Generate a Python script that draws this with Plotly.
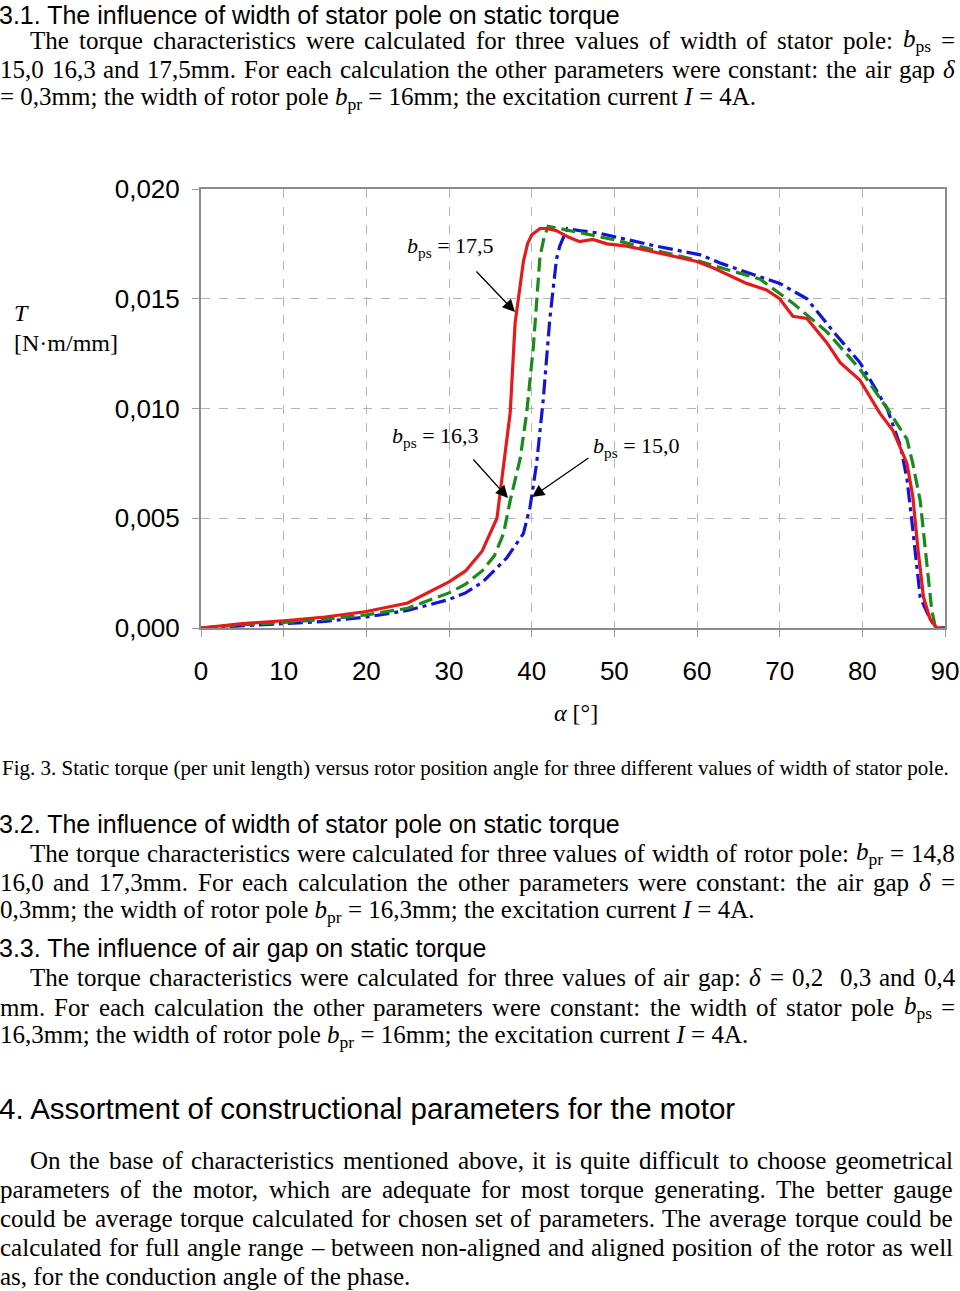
import re
import plotly.graph_objects as go

# ---------------- data ----------------
x_175 = [0, 5, 10, 15, 20, 25, 30, 32, 34, 35, 35.8, 36.5, 37, 37.4, 38.0, 38.6, 39.0, 39.5, 40, 41,
         41.8, 43, 44.5, 45.8, 47.4, 49.1, 51.5, 54, 56.5, 60, 62, 64.4, 66, 68.4, 70, 71.6, 73.3,
         75.7, 77.3, 79.7, 82.1, 83.7, 85.4, 86.1, 86.7, 87.4, 88.2, 89, 90]
t_175 = [0, 0.0002, 0.00033, 0.0005, 0.00075, 0.00114, 0.0021, 0.0026, 0.0035, 0.0043, 0.0050, 0.0071,
         0.0085, 0.0098, 0.0139, 0.0156, 0.0167, 0.0175, 0.0179, 0.0182, 0.0182, 0.0181, 0.0178, 0.0176,
         0.0177, 0.0175, 0.0174, 0.0172, 0.0170, 0.0167, 0.0164, 0.0160, 0.0157, 0.0154, 0.0150, 0.0142,
         0.0141, 0.0130, 0.0121, 0.0113, 0.0098, 0.0090, 0.0075, 0.0060, 0.0037, 0.0014, 0.0004, 0.0, 0.0]

x_163 = [0, 5, 10, 15, 20, 25, 30, 32, 34, 35.5, 36.6, 37.4, 38.6, 39.4, 40.2, 40.6, 41.0, 41.5, 42.0,
         43.4, 46, 49.8, 55, 59.5, 63, 67.6, 71.6, 75.7, 79.7, 83.0, 85.4, 86.1, 87.0, 87.8, 88.4, 88.8, 90]
t_163 = [0, 0.00015, 0.00025, 0.0004, 0.0006, 0.0009, 0.0016, 0.0020, 0.0026, 0.0033, 0.0043, 0.0058,
         0.0077, 0.0098, 0.0128, 0.0150, 0.0169, 0.0178, 0.0183, 0.0182, 0.0180, 0.0177, 0.0172, 0.0168,
         0.0164, 0.0159, 0.0148, 0.0135, 0.0118, 0.0100, 0.0086, 0.0075, 0.0058, 0.0030, 0.0008, 0.0001, 0]

x_150 = [0, 5, 10, 15, 20, 25, 30, 32, 34.1, 37.0, 39.0, 39.8, 40.6, 41.4, 42.2, 43.0, 43.4, 44.3, 45.8,
         48, 51.5, 55, 60.4, 63, 66.8, 70, 73.3, 76.5, 79.7, 83.0, 84.6, 85.4, 86.1, 87.0, 88.2, 89, 90]
t_150 = [0, 0.0001, 0.0002, 0.0003, 0.0005, 0.0008, 0.0013, 0.0016, 0.0021, 0.0032, 0.0043, 0.0055,
         0.0075, 0.0104, 0.0141, 0.0168, 0.0174, 0.0182, 0.0181, 0.0180, 0.0177, 0.0174, 0.0170, 0.0166,
         0.0161, 0.0157, 0.0150, 0.0135, 0.0121, 0.0100, 0.0083, 0.0068, 0.0045, 0.0014, 0.0004, 0.0, 0]

x_ticks = [0, 10, 20, 30, 40, 50, 60, 70, 80, 90]
y_ticks = [0.0, 0.005, 0.010, 0.015, 0.020]

# ---------------- layout geometry ----------------
W, H = 960, 1291
L, R, T, B = 201, 945, 189, 628


def pp(px, py):
    return (px - L) / (R - L), (B - py) / (B - T)


SERIF = "Liberation Serif, Times New Roman, serif"
SANS = "Liberation Sans, Arial, sans-serif"

fig = go.Figure()
fig.add_trace(go.Scatter(x=x_150, y=t_150, mode="lines", name="bps = 15,0",
                         line=dict(color="#1414D8", width=3.2, dash="15px,5px,4px,5px")))
fig.add_trace(go.Scatter(x=x_163, y=t_163, mode="lines", name="bps = 16,3",
                         line=dict(color="#1A8A1A", width=3.2, dash="14px,6px")))
fig.add_trace(go.Scatter(x=x_175, y=t_175, mode="lines", name="bps = 17,5",
                         line=dict(color="#E51B1B", width=3.2)))

ann = []


def d(px, py):
    return (px - L) / (R - L) * 90, (B - py) / (B - T) * 0.020


# arrows (head at curve, tail near labels)
for (hx, hy), (tx, ty) in [((515, 312), (475, 270)), ((508, 498), (472, 458)), ((532, 497), (590, 457))]:
    hxd, hyd = d(hx, hy)
    txd, tyd = d(tx, ty)
    ann.append(dict(x=hxd, y=hyd, ax=txd, ay=tyd, xref="x", yref="y", axref="x", ayref="y",
                    text="", showarrow=True, arrowhead=2, arrowsize=1.9, arrowwidth=1.3,
                    arrowcolor="black"))

# curve labels
for txt, px, py in [("<i>b</i><sub>ps</sub> = 17,5", 405, 247),
                    ("<i>b</i><sub>ps</sub> = 16,3", 390, 437),
                    ("<i>b</i><sub>ps</sub> = 15,0", 591, 447)]:
    xp, yp = pp(px, py)
    ann.append(dict(x=xp, y=yp, xref="paper", yref="paper", xanchor="left", yanchor="middle",
                    text=txt, showarrow=False, font=dict(family=SERIF, size=22, color="black")))

# axis titles
for txt, px, py, anc in [("<i>T</i>", 12, 313, "left"), ("[N·m/mm]", 12, 343, "left"),
                         ("<i>α</i> [°]", 576, 713, "center")]:
    xp, yp = pp(px, py)
    ann.append(dict(x=xp, y=yp, xref="paper", yref="paper", xanchor=anc, yanchor="middle",
                    text=txt, showarrow=False, font=dict(family=SERIF, size=24, color="black")))


def text_line(txt, px, py, fam, size, anchor="left"):
    xp, yp = pp(px, py)
    ann.append(dict(x=xp, y=yp, xref="paper", yref="paper", xanchor=anchor, yanchor="middle",
                    text=txt, showarrow=False, borderpad=0, borderwidth=0,
                    font=dict(family=fam, size=size, color="black")))


# approximate Times advance widths (per 1000 em) used only to spread words for justification
TW = {" ": 250, "a": 444, "b": 500, "c": 444, "d": 500, "e": 444, "f": 333, "g": 500, "h": 500,
      "i": 278, "j": 278, "k": 500, "l": 278, "m": 778, "n": 500, "o": 500, "p": 500, "q": 500,
      "r": 333, "s": 389, "t": 278, "u": 500, "v": 500, "w": 722, "x": 500, "y": 500, "z": 444,
      "A": 722, "B": 667, "C": 667, "D": 722, "E": 611, "F": 556, "G": 722, "H": 722, "I": 333,
      "T": 611, "O": 722, ",": 250, ".": 250, ":": 278, ";": 278, "=": 564, "–": 500, "-": 333,
      "δ": 500, "(": 333, ")": 333}


def text_w(s, size):
    w, scale = 0.0, 1.0
    for tok in re.split(r"(<[^>]+>)", s):
        if tok.startswith("<"):
            scale = 0.7 if tok == "<sub>" else (1.0 if tok == "</sub>" else scale)
            continue
        w += sum(TW.get(c, 500) for c in tok) * scale
    return w * size / 1000.0


BODY = 25


def justified(line, py, x0=0, x1=955, size=BODY):
    words = line.split(" ")
    widths = [text_w(w, size) for w in words]
    gap = (x1 - x0 - sum(widths)) / (len(words) - 1)
    x = x0
    for w, wd in zip(words, widths):
        if w:
            text_line(w, x, py, SERIF, size)
        x += wd + gap


# headings
text_line("3.1. The influence of width of stator pole on static torque", -1, 14.5, SANS, 25)
text_line("3.2. The influence of width of stator pole on static torque", -1, 824, SANS, 25)
text_line("3.3. The influence of air gap on static torque", -1, 948, SANS, 25)
text_line("4. Assortment of constructional parameters for the motor", -1, 1108, SANS, 29.5)

# section 3.1 text
justified("The torque characteristics were calculated for three values of width of stator pole: <i>b</i><sub>ps</sub> =",
          40, x0=30)
justified("15,0 16,3 and 17,5mm. For each calculation the other parameters were constant: the air gap <i>δ</i>", 69)
text_line("= 0,3mm; the width of rotor pole <i>b</i><sub>pr</sub> = 16mm; the excitation current <i>I</i> = 4A.",
          0, 98, SERIF, BODY)

# caption
text_line("Fig. 3. Static torque (per unit length) versus rotor position angle for three different values of width of stator pole.",
          2, 768, SERIF, 21)

# section 3.2 text
justified("The torque characteristics were calculated for three values of width of rotor pole: <i>b</i><sub>pr</sub> = 14,8",
          853, x0=30)
justified("16,0 and 17,3mm. For each calculation the other parameters were constant: the air gap <i>δ</i> =", 882)
text_line("0,3mm; the width of rotor pole <i>b</i><sub>pr</sub> = 16,3mm; the excitation current <i>I</i> = 4A.",
          0, 911, SERIF, BODY)

# section 3.3 text
justified("The torque characteristics were calculated for three values of air gap: <i>δ</i> = 0,2  0,3 and 0,4",
          978, x0=30)
justified("mm. For each calculation the other parameters were constant: the width of stator pole <i>b</i><sub>ps</sub> =",
          1007)
text_line("16,3mm; the width of rotor pole <i>b</i><sub>pr</sub> = 16mm; the excitation current <i>I</i> = 4A.",
          0, 1036, SERIF, BODY)

# section 4 text
justified("On the base of characteristics mentioned above, it is quite difficult to choose geometrical",
          1160, x0=30, x1=953)
justified("parameters of the motor, which are adequate for most torque generating. The better gauge", 1189, x1=953)
justified("could be average torque calculated for chosen set of parameters. The average torque could be", 1218, x1=953)
justified("calculated for full angle range – between non-aligned and aligned position of the rotor as well", 1247, x1=953)
text_line("as, for the conduction angle of the phase.", 0, 1276, SERIF, BODY)

axis_common = dict(showline=True, mirror=True, linecolor="#8C8C8C", linewidth=2,
                   showgrid=True, gridcolor="#B4B4B4", gridwidth=1, griddash="dash",
                   ticks="outside", ticklen=7, tickcolor="#9A9A9A", zeroline=False, automargin=False,
                   tickfont=dict(family=SANS, size=26, color="black"))

fig.update_layout(
    width=W, height=H, autosize=False,
    margin=dict(l=L, r=W - R, t=T, b=H - B, pad=0, autoexpand=False),
    paper_bgcolor="white", plot_bgcolor="white",
    showlegend=False, separators=",.",
    xaxis=dict(range=[0, 90], tickvals=x_ticks, ticklabelstandoff=12, **axis_common),
    yaxis=dict(range=[0, 0.020], tickvals=y_ticks, tickformat=".3f", ticklabelstandoff=7, **axis_common),
    annotations=ann,
)

fig.write_html("out.html", config={"displayModeBar": False},
               post_script="document.body.style.margin='0';document.body.style.overflow='hidden';")
